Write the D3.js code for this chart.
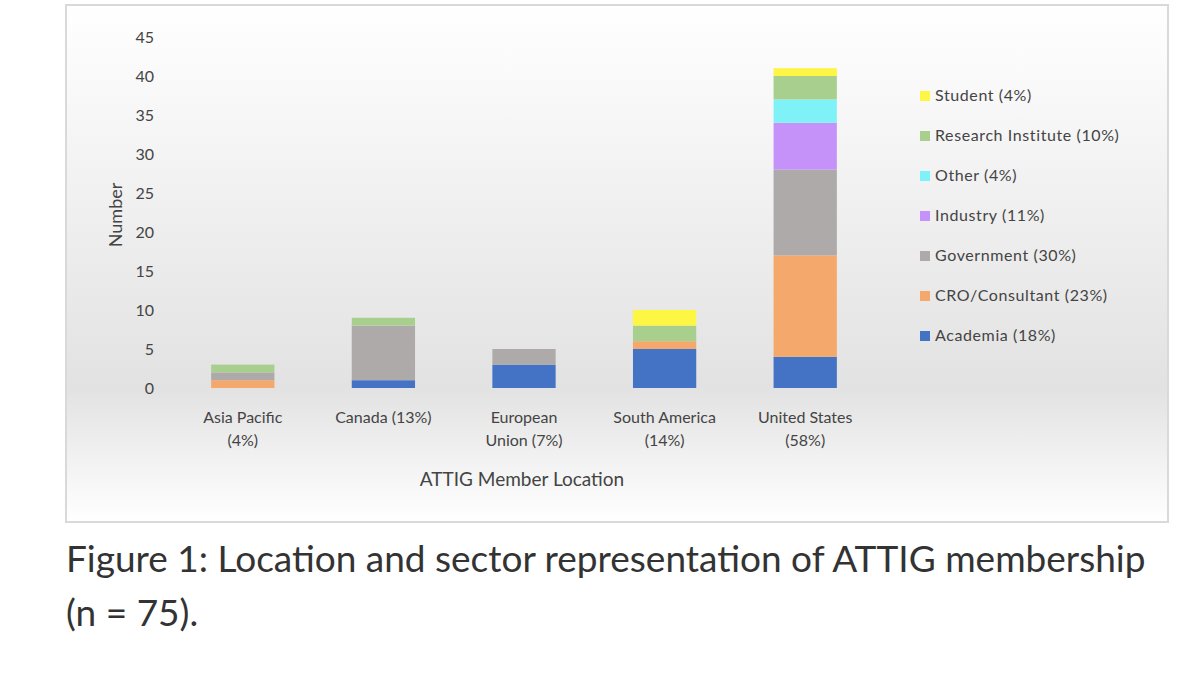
<!DOCTYPE html>
<html><head><meta charset="utf-8">
<script src="https://cdn.jsdelivr.net/npm/d3@7"></script>
<style>body{margin:0;background:#fff;}svg{display:block;font-family:Lato,"Open Sans",sans-serif;}</style>
</head><body><svg id="c" width="1200" height="675"></svg>
<script>
const categories = [["Asia Pacific","(4%)"],["Canada (13%)",""],["European","Union (7%)"],["South America","(14%)"],["United States","(58%)"]];
const sectors = ["Academia (18%)","CRO/Consultant (23%)","Government (30%)","Industry (11%)","Other (4%)","Research Institute (10%)","Student (4%)"];
const colors = ["#4472c4","#f4a86b","#aeaaaa","#c492f9","#7ff2f8","#a9cf8f","#fdf642"];
const academia   = [0,1,3,5,4];
const cro        = [1,0,0,1,13];
const government = [1,7,2,0,11];
const industry   = [0,0,0,0,6];
const other      = [0,0,0,0,3];
const research   = [1,1,0,2,3];
const student    = [0,0,0,2,1];
const yTicks = [0,5,10,15,20,25,30,35,40,45];

const series = [academia,cro,government,industry,other,research,student];
const svg = d3.select("#c");
const defs = svg.append("defs");
const g = defs.append("linearGradient").attr("id","bg").attr("x1",0).attr("x2",0).attr("y1",0).attr("y2",1);
g.append("stop").attr("offset","0%").attr("stop-color","#ffffff");
g.append("stop").attr("offset","74%").attr("stop-color","#e2e2e2");
g.append("stop").attr("offset","100%").attr("stop-color","#ffffff");
svg.append("rect").attr("x",66).attr("y",5).attr("width",1102).attr("height",517).attr("fill","url(#bg)").attr("stroke","#d9d9d9").attr("stroke-width",2);

const x = d3.scaleBand().domain(d3.range(categories.length)).range([176,872]).paddingInner(0.55).paddingOuter(0.25);
const y = d3.scaleLinear().domain([0,45]).range([388,37]);

const stack = d3.stack().keys(d3.range(series.length)).value((d,k)=>series[k][d])(d3.range(categories.length));
svg.append("g").selectAll("g").data(stack).join("g").attr("fill",(d,i)=>colors[i])
 .selectAll("rect").data(d=>d.map((v,j)=>({v,j}))).join("rect")
 .attr("x",d=>x(d.j)).attr("width",x.bandwidth())
 .attr("y",d=>y(d.v[1])).attr("height",d=>y(d.v[0])-y(d.v[1]));

const ya = svg.append("g").attr("transform","translate(160,0)").call(d3.axisLeft(y).tickValues(yTicks).tickSize(0).tickPadding(6));
ya.select(".domain").remove();
ya.selectAll("text").attr("font-size",16).attr("fill","#444").attr("font-family","Lato,sans-serif");

const xl = svg.append("g");
categories.forEach((c,i)=>{
  c.forEach((t,k)=>{ if(t) xl.append("text").attr("x",x(i)+x.bandwidth()/2).attr("y",423+k*23).attr("text-anchor","middle").attr("font-size",16).attr("fill","#444").text(t);});
});
svg.append("text").attr("x",522).attr("y",486).attr("text-anchor","middle").attr("font-size",19).attr("fill","#444").text("ATTIG Member Location");
svg.append("text").attr("transform","translate(122,215) rotate(-90)").attr("text-anchor","middle").attr("font-size",18).attr("fill","#444").text("Number");

const lg = svg.append("g");
sectors.forEach((s,i)=>{
  const yy = 336 - i*40;
  lg.append("rect").attr("x",920).attr("y",yy-5).attr("width",10).attr("height",10).attr("fill",colors[i]);
  lg.append("text").attr("x",935).attr("y",yy+5).attr("font-size",16).attr("letter-spacing",0.6).attr("fill","#444").text(s);
});
svg.append("text").attr("x",66).attr("y",572).attr("font-size",37).attr("fill","#333").text("Figure 1: Location and sector representation of ATTIG membership");
svg.append("text").attr("x",66).attr("y",626).attr("font-size",37).attr("fill","#333").text("(n = 75).");
</script></body></html>
